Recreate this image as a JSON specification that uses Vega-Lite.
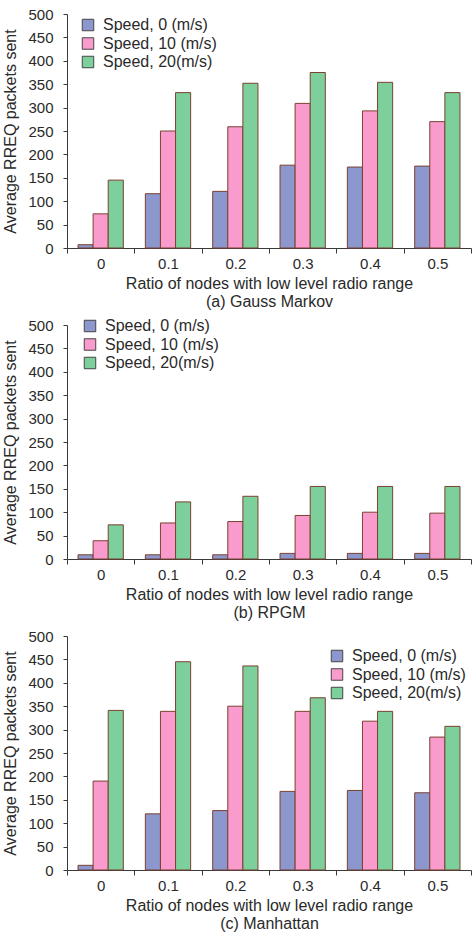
{
  "$schema": "https://vega.github.io/schema/vega-lite/v6.json",
  "padding": {"left": 2, "top": 7, "right": 3, "bottom": 0},
  "spacing": 8,
  "config": {
    "font": "Liberation Sans",
    "view": {"stroke": null},
    "axis": {
      "domainColor": "#3a3a3a",
      "tickColor": "#3a3a3a",
      "labelColor": "#2a2a2a",
      "titleColor": "#2a2a2a",
      "labelFontSize": 15,
      "titleFontSize": 16,
      "titleFontWeight": "normal",
      "grid": false
    },
    "legend": {
      "labelFontSize": 16,
      "labelColor": "#2a2a2a",
      "symbolType": "square",
      "symbolSize": 132,
      "symbolStrokeColor": "#444444",
      "symbolStrokeWidth": 1,
      "symbolOpacity": 1,
      "labelOffset": 7,
      "rowPadding": 2.5,
      "padding": 0
    }
  },
  "datasets": {
    "rreq": [
      {"model": "a", "ratio": "0", "speed": "Speed, 0 (m/s)", "packets": 7},
      {"model": "a", "ratio": "0", "speed": "Speed, 10 (m/s)", "packets": 73},
      {"model": "a", "ratio": "0", "speed": "Speed, 20(m/s)", "packets": 145},
      {"model": "a", "ratio": "0.1", "speed": "Speed, 0 (m/s)", "packets": 116},
      {"model": "a", "ratio": "0.1", "speed": "Speed, 10 (m/s)", "packets": 250},
      {"model": "a", "ratio": "0.1", "speed": "Speed, 20(m/s)", "packets": 332},
      {"model": "a", "ratio": "0.2", "speed": "Speed, 0 (m/s)", "packets": 121},
      {"model": "a", "ratio": "0.2", "speed": "Speed, 10 (m/s)", "packets": 259},
      {"model": "a", "ratio": "0.2", "speed": "Speed, 20(m/s)", "packets": 352},
      {"model": "a", "ratio": "0.3", "speed": "Speed, 0 (m/s)", "packets": 177},
      {"model": "a", "ratio": "0.3", "speed": "Speed, 10 (m/s)", "packets": 309},
      {"model": "a", "ratio": "0.3", "speed": "Speed, 20(m/s)", "packets": 375},
      {"model": "a", "ratio": "0.4", "speed": "Speed, 0 (m/s)", "packets": 173},
      {"model": "a", "ratio": "0.4", "speed": "Speed, 10 (m/s)", "packets": 293},
      {"model": "a", "ratio": "0.4", "speed": "Speed, 20(m/s)", "packets": 354},
      {"model": "a", "ratio": "0.5", "speed": "Speed, 0 (m/s)", "packets": 175},
      {"model": "a", "ratio": "0.5", "speed": "Speed, 10 (m/s)", "packets": 270},
      {"model": "a", "ratio": "0.5", "speed": "Speed, 20(m/s)", "packets": 332},
      {"model": "b", "ratio": "0", "speed": "Speed, 0 (m/s)", "packets": 9},
      {"model": "b", "ratio": "0", "speed": "Speed, 10 (m/s)", "packets": 39},
      {"model": "b", "ratio": "0", "speed": "Speed, 20(m/s)", "packets": 73},
      {"model": "b", "ratio": "0.1", "speed": "Speed, 0 (m/s)", "packets": 9},
      {"model": "b", "ratio": "0.1", "speed": "Speed, 10 (m/s)", "packets": 77},
      {"model": "b", "ratio": "0.1", "speed": "Speed, 20(m/s)", "packets": 122},
      {"model": "b", "ratio": "0.2", "speed": "Speed, 0 (m/s)", "packets": 9},
      {"model": "b", "ratio": "0.2", "speed": "Speed, 10 (m/s)", "packets": 80},
      {"model": "b", "ratio": "0.2", "speed": "Speed, 20(m/s)", "packets": 134},
      {"model": "b", "ratio": "0.3", "speed": "Speed, 0 (m/s)", "packets": 12},
      {"model": "b", "ratio": "0.3", "speed": "Speed, 10 (m/s)", "packets": 93},
      {"model": "b", "ratio": "0.3", "speed": "Speed, 20(m/s)", "packets": 155},
      {"model": "b", "ratio": "0.4", "speed": "Speed, 0 (m/s)", "packets": 12},
      {"model": "b", "ratio": "0.4", "speed": "Speed, 10 (m/s)", "packets": 100},
      {"model": "b", "ratio": "0.4", "speed": "Speed, 20(m/s)", "packets": 155},
      {"model": "b", "ratio": "0.5", "speed": "Speed, 0 (m/s)", "packets": 12},
      {"model": "b", "ratio": "0.5", "speed": "Speed, 10 (m/s)", "packets": 98},
      {"model": "b", "ratio": "0.5", "speed": "Speed, 20(m/s)", "packets": 155},
      {"model": "c", "ratio": "0", "speed": "Speed, 0 (m/s)", "packets": 10},
      {"model": "c", "ratio": "0", "speed": "Speed, 10 (m/s)", "packets": 190},
      {"model": "c", "ratio": "0", "speed": "Speed, 20(m/s)", "packets": 341},
      {"model": "c", "ratio": "0.1", "speed": "Speed, 0 (m/s)", "packets": 120},
      {"model": "c", "ratio": "0.1", "speed": "Speed, 10 (m/s)", "packets": 339},
      {"model": "c", "ratio": "0.1", "speed": "Speed, 20(m/s)", "packets": 445},
      {"model": "c", "ratio": "0.2", "speed": "Speed, 0 (m/s)", "packets": 127},
      {"model": "c", "ratio": "0.2", "speed": "Speed, 10 (m/s)", "packets": 350},
      {"model": "c", "ratio": "0.2", "speed": "Speed, 20(m/s)", "packets": 436},
      {"model": "c", "ratio": "0.3", "speed": "Speed, 0 (m/s)", "packets": 168},
      {"model": "c", "ratio": "0.3", "speed": "Speed, 10 (m/s)", "packets": 339},
      {"model": "c", "ratio": "0.3", "speed": "Speed, 20(m/s)", "packets": 368},
      {"model": "c", "ratio": "0.4", "speed": "Speed, 0 (m/s)", "packets": 170},
      {"model": "c", "ratio": "0.4", "speed": "Speed, 10 (m/s)", "packets": 318},
      {"model": "c", "ratio": "0.4", "speed": "Speed, 20(m/s)", "packets": 339},
      {"model": "c", "ratio": "0.5", "speed": "Speed, 0 (m/s)", "packets": 165},
      {"model": "c", "ratio": "0.5", "speed": "Speed, 10 (m/s)", "packets": 284},
      {"model": "c", "ratio": "0.5", "speed": "Speed, 20(m/s)", "packets": 307}
    ]
  },
  "resolve": {"scale": {"color": "independent"}, "legend": {"color": "independent"}},
  "vconcat": [
    {
      "width": 404,
      "height": 234,
      "data": {"name": "rreq"},
      "transform": [{"filter": "datum.model === 'a'"}],
      "mark": {"type": "bar", "stroke": "#7a4030", "strokeWidth": 1},
      "encoding": {
        "x": {
          "field": "ratio", "type": "nominal", "sort": ["0", "0.1", "0.2", "0.3", "0.4", "0.5"],
          "scale": {"paddingInner": 0, "paddingOuter": 0},
          "axis": {"labelAngle": 0, "tickBand": "extent", "tickSize": 5, "labelPadding": 3, "titlePadding": 4,
                   "title": ["Ratio of nodes with low level radio range", "(a) Gauss Markov"], "titleLineHeight": 18.5}
        },
        "xOffset": {
          "field": "speed", "type": "nominal", "sort": ["Speed, 0 (m/s)", "Speed, 10 (m/s)", "Speed, 20(m/s)"],
          "scale": {"paddingInner": 0, "paddingOuter": 0.73}
        },
        "y": {
          "field": "packets", "type": "quantitative",
          "scale": {"domain": [0, 500], "nice": false},
          "axis": {"values": [0, 50, 100, 150, 200, 250, 300, 350, 400, 450, 500], "tickSize": 4, "labelPadding": 10, "titlePadding": 9,
                   "title": "Average RREQ packets sent"}
        },
        "color": {
          "field": "speed", "type": "nominal",
          "scale": {"domain": ["Speed, 0 (m/s)", "Speed, 10 (m/s)", "Speed, 20(m/s)"], "range": ["#8c98cd", "#fa9bcd", "#7dd09b"]},
          "legend": {"title": null, "orient": "none", "legendX": 13, "legendY": 3}
        }
      }
    },
    {
      "width": 404,
      "height": 234,
      "data": {"name": "rreq"},
      "transform": [{"filter": "datum.model === 'b'"}],
      "mark": {"type": "bar", "stroke": "#7a4030", "strokeWidth": 1},
      "encoding": {
        "x": {
          "field": "ratio", "type": "nominal", "sort": ["0", "0.1", "0.2", "0.3", "0.4", "0.5"],
          "scale": {"paddingInner": 0, "paddingOuter": 0},
          "axis": {"labelAngle": 0, "tickBand": "extent", "tickSize": 5, "labelPadding": 3, "titlePadding": 4,
                   "title": ["Ratio of nodes with low level radio range", "(b) RPGM"], "titleLineHeight": 18.5}
        },
        "xOffset": {
          "field": "speed", "type": "nominal", "sort": ["Speed, 0 (m/s)", "Speed, 10 (m/s)", "Speed, 20(m/s)"],
          "scale": {"paddingInner": 0, "paddingOuter": 0.73}
        },
        "y": {
          "field": "packets", "type": "quantitative",
          "scale": {"domain": [0, 500], "nice": false},
          "axis": {"values": [0, 50, 100, 150, 200, 250, 300, 350, 400, 450, 500], "tickSize": 4, "labelPadding": 10, "titlePadding": 9,
                   "title": "Average RREQ packets sent"}
        },
        "color": {
          "field": "speed", "type": "nominal",
          "scale": {"domain": ["Speed, 0 (m/s)", "Speed, 10 (m/s)", "Speed, 20(m/s)"], "range": ["#8c98cd", "#fa9bcd", "#7dd09b"]},
          "legend": {"title": null, "orient": "none", "legendX": 15, "legendY": -7}
        }
      }
    },
    {
      "width": 404,
      "height": 234,
      "data": {"name": "rreq"},
      "transform": [{"filter": "datum.model === 'c'"}],
      "mark": {"type": "bar", "stroke": "#7a4030", "strokeWidth": 1},
      "encoding": {
        "x": {
          "field": "ratio", "type": "nominal", "sort": ["0", "0.1", "0.2", "0.3", "0.4", "0.5"],
          "scale": {"paddingInner": 0, "paddingOuter": 0},
          "axis": {"labelAngle": 0, "tickBand": "extent", "tickSize": 5, "labelPadding": 3, "titlePadding": 4,
                   "title": ["Ratio of nodes with low level radio range", "(c) Manhattan"], "titleLineHeight": 18.5}
        },
        "xOffset": {
          "field": "speed", "type": "nominal", "sort": ["Speed, 0 (m/s)", "Speed, 10 (m/s)", "Speed, 20(m/s)"],
          "scale": {"paddingInner": 0, "paddingOuter": 0.73}
        },
        "y": {
          "field": "packets", "type": "quantitative",
          "scale": {"domain": [0, 500], "nice": false},
          "axis": {"values": [0, 50, 100, 150, 200, 250, 300, 350, 400, 450, 500], "tickSize": 4, "labelPadding": 10, "titlePadding": 9,
                   "title": "Average RREQ packets sent"}
        },
        "color": {
          "field": "speed", "type": "nominal",
          "scale": {"domain": ["Speed, 0 (m/s)", "Speed, 10 (m/s)", "Speed, 20(m/s)"], "range": ["#8c98cd", "#fa9bcd", "#7dd09b"]},
          "legend": {"title": null, "orient": "none", "legendX": 262, "legendY": 12}
        }
      }
    }
  ]
}
